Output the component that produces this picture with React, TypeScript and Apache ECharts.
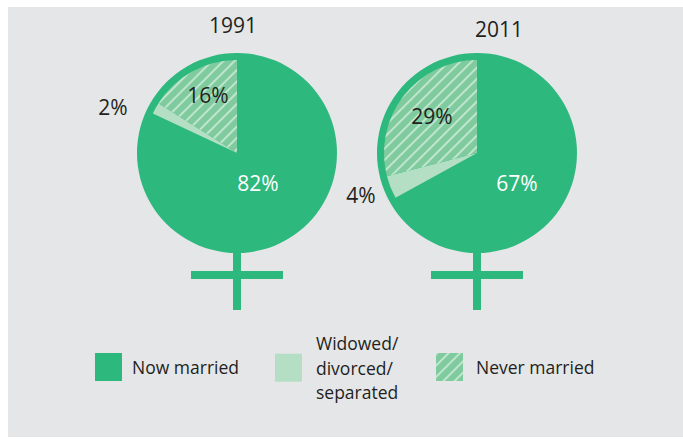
import React, { useEffect, useRef } from "react";
import * as echarts from "echarts";

const years = ["1991", "2011"];
const categories = ["Now married", "Widowed/\ndivorced/\nseparated", "Never married"];
const values1991 = [82, 2, 16];
const values2011 = [67, 4, 29];
const seriesValues = [values1991, values2011];

const FONT = "'Open Sans', 'Noto Sans', sans-serif";
const DARK = "#2db87d";
const LIGHT = "#b4dfc4";
const HATCH = "#7fcb9e";
const TEXT = "#231f20";

const centers = [
  [237, 153],
  [477, 153],
];
const titlePos = [
  [233, 25],
  [499, 29],
];
const labelPos = [
  [
    [258, 183],
    [113, 107],
    [208, 95],
  ],
  [
    [517, 183],
    [361, 195],
    [432, 116],
  ],
];

const hatchDecal = {
  symbol: "rect",
  symbolSize: 1,
  color: "rgba(255,255,255,0.5)",
  dashArrayX: [1, 0],
  dashArrayY: [1.2, 5.2],
  rotation: -Math.PI / 4,
};

const sliceStyles = [
  { color: DARK },
  { color: LIGHT },
  { color: HATCH, decal: hatchDecal },
];

export default function App() {
  const ref = useRef<HTMLDivElement>(null);
  useEffect(() => {
    if (!ref.current) return;
    const chart = echarts.init(ref.current, null, { renderer: "svg" });

    const series: any[] = [];
    const graphic: any[] = [
      {
        type: "rect",
        z: -100,
        shape: { x: 8, y: 7, width: 675, height: 430 },
        style: { fill: "#e5e6e8" },
      },
    ];

    years.forEach((yr, i) => {
      const [cx, cy] = centers[i];
      series.push({
        type: "pie",
        name: yr + "-bg",
        center: [cx, cy],
        radius: 100,
        silent: true,
        label: { show: false },
        labelLine: { show: false },
        itemStyle: { color: DARK, borderWidth: 0 },
        data: [{ name: "bg", value: 1 }],
        z: 2,
      });
      series.push({
        type: "pie",
        name: yr,
        center: [cx, cy],
        radius: 93,
        startAngle: 90,
        clockwise: true,
        silent: true,
        label: { show: false },
        labelLine: { show: false },
        emphasis: { disabled: true },
        data: categories.map((c, k) => ({
          name: c,
          value: seriesValues[i][k],
          itemStyle: { ...sliceStyles[k], borderWidth: 0 },
        })),
        z: 3,
      });
      // female symbol cross
      graphic.push({
        type: "rect",
        z: 1,
        shape: { x: cx - 4, y: cy + 95, width: 8, height: 62 },
        style: { fill: DARK },
      });
      graphic.push({
        type: "rect",
        z: 1,
        shape: { x: cx - 46, y: 271, width: 92, height: 8 },
        style: { fill: DARK },
      });
      graphic.push({
        type: "text",
        z: 100,
        x: titlePos[i][0],
        y: titlePos[i][1],
        style: {
          text: yr,
          fill: TEXT,
          fontFamily: FONT,
          fontSize: 21,
          align: "center",
          verticalAlign: "middle",
        },
      });
      seriesValues[i].forEach((v, k) => {
        graphic.push({
          type: "text",
          z: 100,
          x: labelPos[i][k][0],
          y: labelPos[i][k][1],
          style: {
            text: v + "%",
            fill: k === 0 ? "#ffffff" : TEXT,
            fontFamily: FONT,
            fontSize: 21,
            align: "center",
            verticalAlign: "middle",
          },
        });
      });
    });

    const legendLefts = [95, 275, 436];
    const legendTops = [353, 331, 353];
    const legendPad = [5, 9, 8];
    const legend = categories.map((c, k) => ({
      data: [c],
      left: legendLefts[k],
      top: legendTops[k],
      orient: "horizontal",
      itemWidth: 27,
      itemHeight: 28,
      selectedMode: false,
      icon: "rect",
      padding: 0,
      textStyle: {
        fontFamily: FONT,
        fontSize: 17.5,
        color: TEXT,
        lineHeight: 24.5,
        padding: [0, 0, 0, legendPad[k]],
      },
    }));

    chart.setOption({
      animation: false,
      backgroundColor: "#ffffff",
      legend,
      series,
      graphic: { elements: graphic },
    });
    return () => chart.dispose();
  }, []);
  return (
    <div
      ref={ref}
      style={{ position: "absolute", left: 0, top: 0, width: 683, height: 439 }}
    />
  );
}
